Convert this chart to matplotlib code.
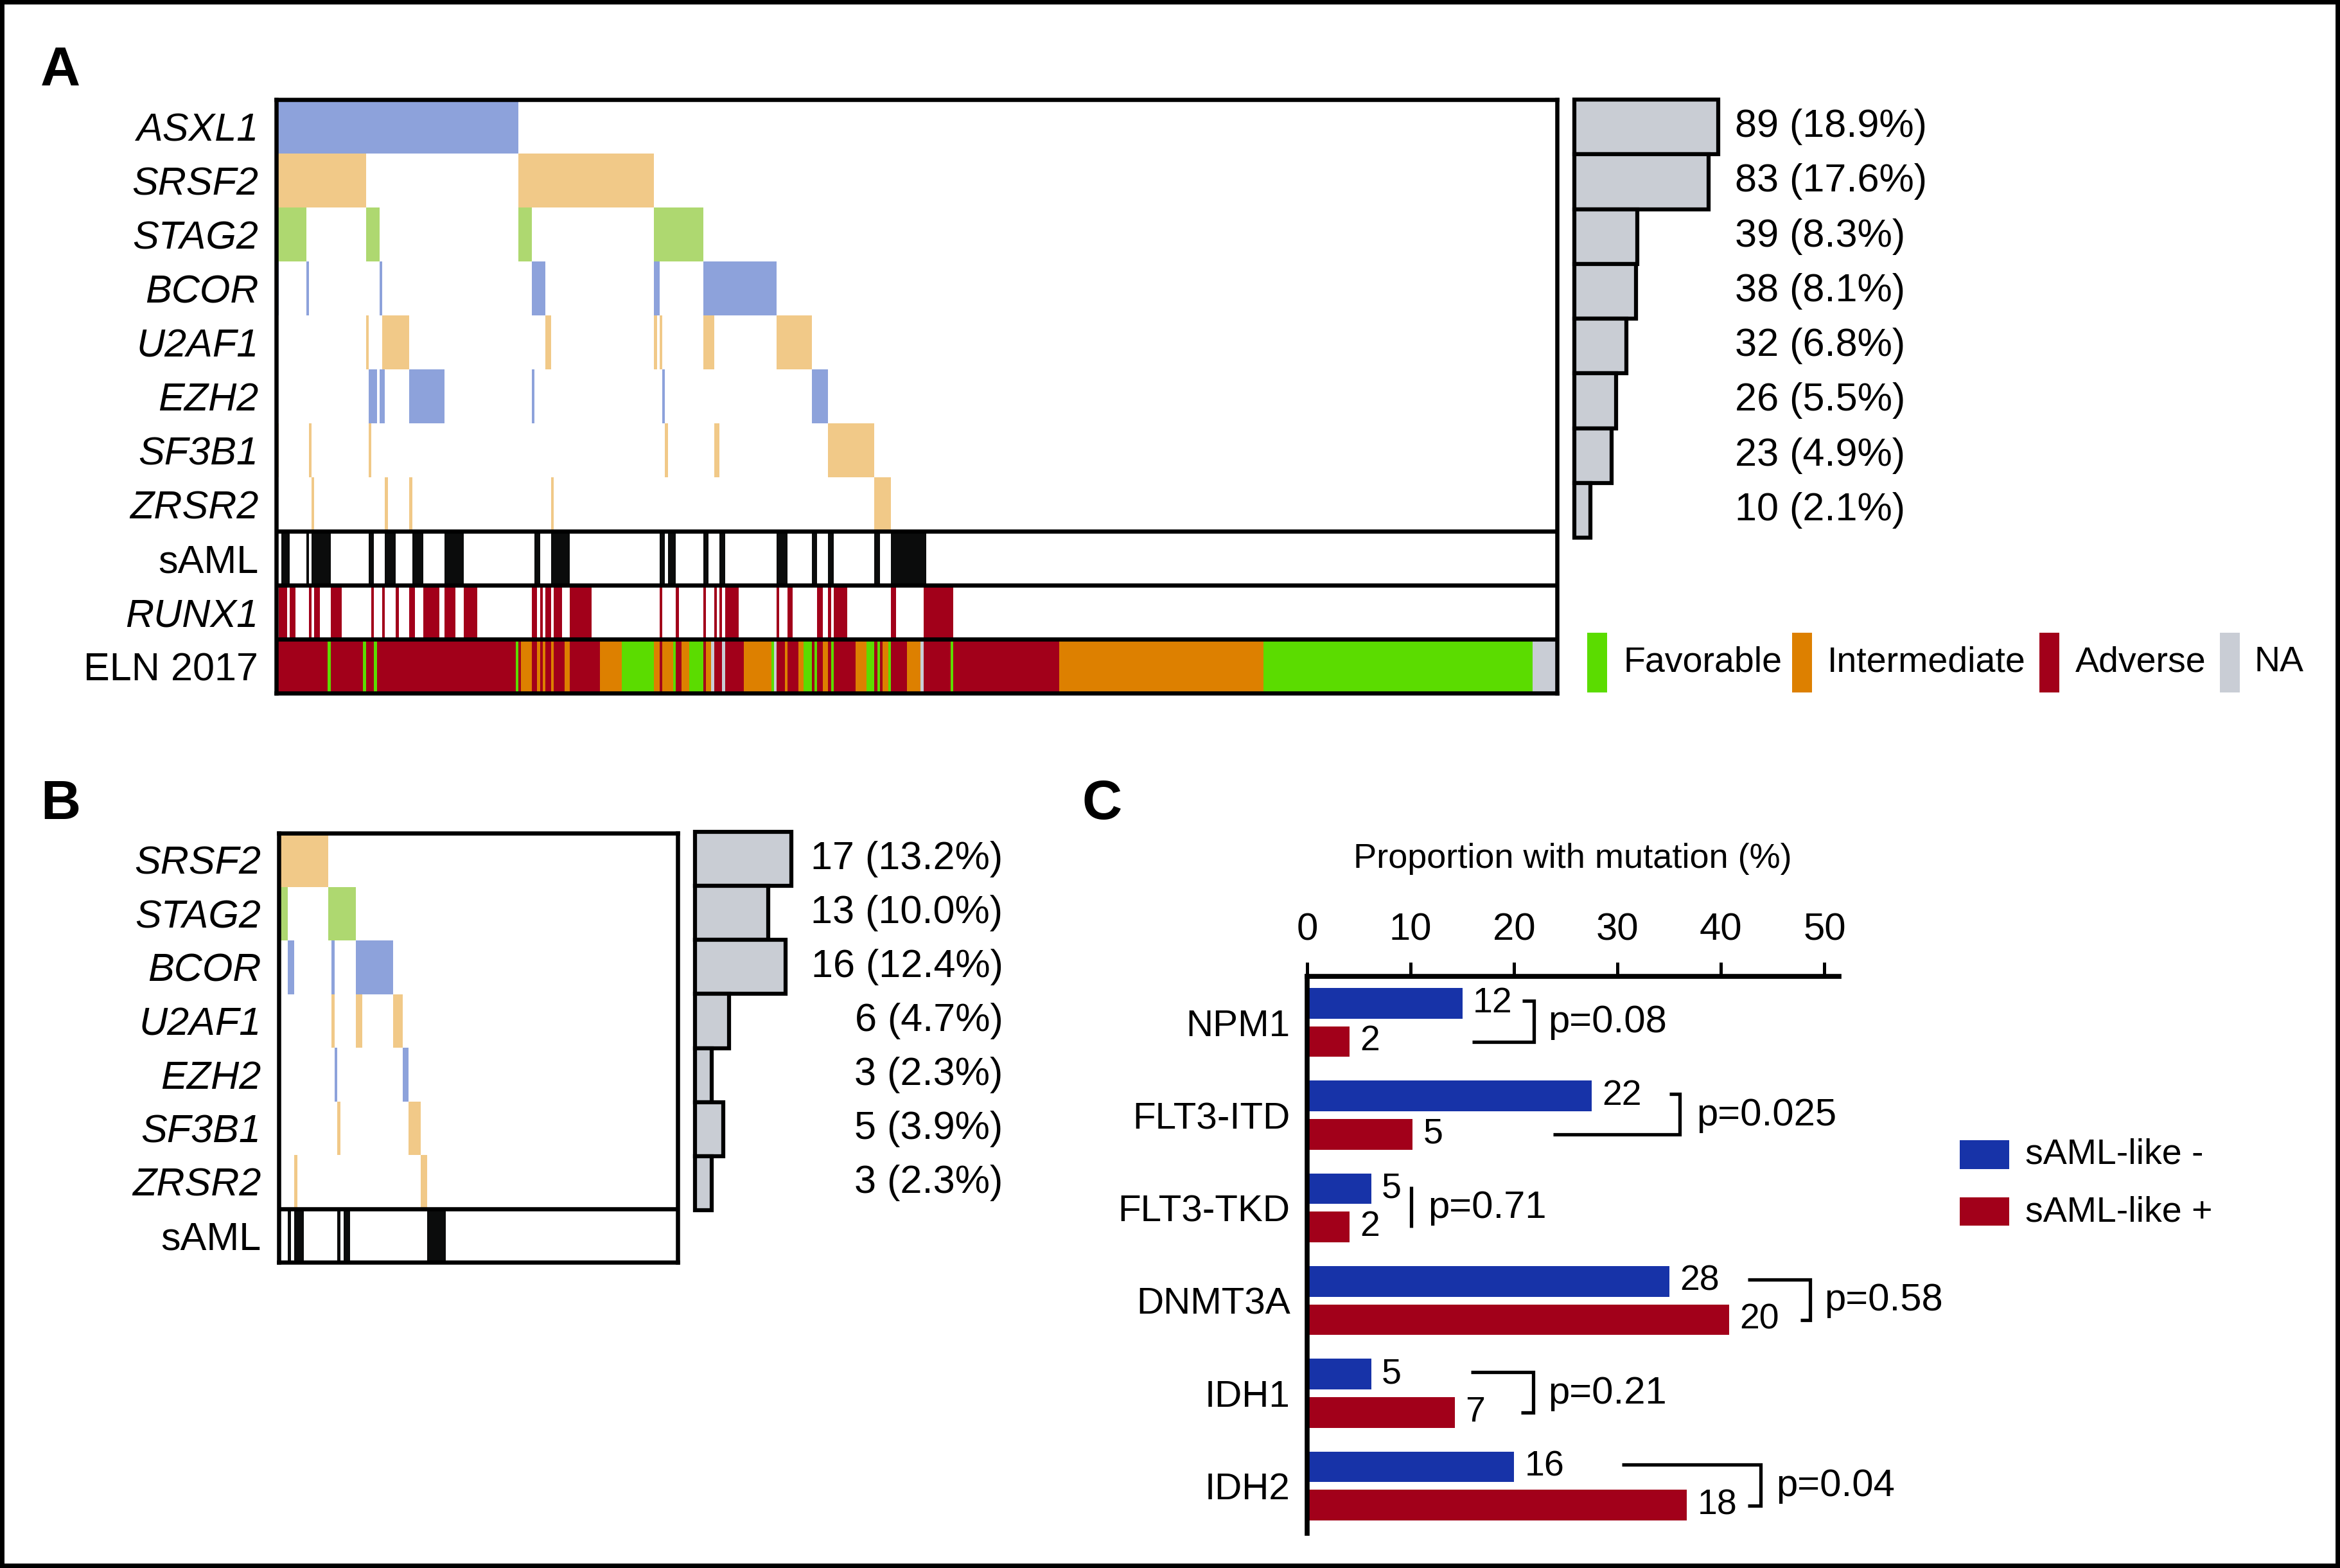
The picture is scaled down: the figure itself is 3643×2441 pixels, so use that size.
import numpy as np
import matplotlib
matplotlib.use("Agg")
import matplotlib.pyplot as plt
from matplotlib.patches import Rectangle

plt.rcParams['font.family'] = ['Liberation Sans', 'DejaVu Sans']

W, H = 3643, 2441

# ---------------- panel A : 471 patients ----------------
n_pat_a = 471
genes_a = ['ASXL1', 'SRSF2', 'STAG2', 'BCOR', 'U2AF1', 'EZH2', 'SF3B1', 'ZRSR2']
asxl1_a = [(0, 89)]
srsf2_a = [(0, 33), (89, 139)]
stag2_a = [(0, 11), (33, 38), (89, 94), (139, 157)]
bcor_a = [(0, 1), (11, 12), (38, 39), (94, 99), (139, 141), (157, 184)]
u2af1_a = [(33, 34), (39, 49), (99, 101), (139, 140), (141, 142), (157, 161), (184, 197)]
ezh2_a = [(34, 37), (38, 40), (49, 62), (94, 95), (142, 143), (197, 203)]
sf3b1_a = [(0, 1), (12, 13), (34, 35), (143, 144), (161, 163), (203, 220)]
zrsr2_a = [(13, 14), (40, 41), (49, 50), (101, 102), (220, 226)]
saml_a = [(2, 5), (11, 12), (13, 20), (34, 36), (40, 44), (50, 54), (62, 69), (95, 97),
          (101, 108), (141, 143), (144, 147), (157, 159), (163, 165), (184, 188),
          (197, 199), (203, 205), (220, 222), (226, 239)]
runx1_a = [(1, 4), (5, 7), (12, 13), (14, 16), (20, 24), (35, 36), (39, 40), (44, 45),
           (49, 51), (54, 60), (62, 66), (69, 74), (94, 96), (97, 98), (99, 101),
           (102, 105), (108, 116), (141, 142), (147, 148), (157, 158), (161, 162),
           (163, 164), (165, 170), (184, 185), (188, 190), (199, 201), (203, 204),
           (205, 210), (226, 228), (238, 249)]
eln_start = [0, 19, 20, 32, 33, 36, 37, 88, 89, 90, 94, 96, 97, 98, 99, 101, 102, 106, 108, 119,
             127, 139, 141, 142, 146, 147, 149, 152, 157, 158, 160, 161, 164, 165, 172, 182, 183,
             184, 187, 188, 192, 194, 197, 198, 199, 201, 203, 204, 205, 213, 217, 220, 221, 222,
             223, 225, 226, 232, 237, 238, 248, 249, 288, 363, 462]
eln_group = ['Adv', 'Fav', 'Adv', 'Fav', 'Adv', 'Fav', 'Adv', 'Fav', 'Adv', 'Int',
             'Adv', 'Int', 'Adv', 'Int', 'Adv', 'Int', 'Adv', 'Int', 'Adv', 'Int',
             'Fav', 'Int', 'Adv', 'Int', 'Fav', 'Adv', 'Int', 'Fav', 'Adv', 'Int',
             'NA', 'Adv', 'NA', 'Adv', 'Int', 'Fav', 'NA', 'Adv', 'Int', 'Adv',
             'Int', 'Fav', 'Adv', 'Fav', 'Adv', 'Int', 'Adv', 'Fav', 'Adv', 'Int',
             'Fav', 'Adv', 'Fav', 'Adv', 'Int', 'Fav', 'Adv', 'Int', 'NA', 'Adv',
             'Fav', 'Adv', 'Int', 'Fav', 'NA']
counts_a = [89, 83, 39, 38, 32, 26, 23, 10]
pct_a = [18.9, 17.6, 8.3, 8.1, 6.8, 5.5, 4.9, 2.1]

# ---------------- panel B : 129 patients ----------------
n_pat_b = 129
genes_b = ['SRSF2', 'STAG2', 'BCOR', 'U2AF1', 'EZH2', 'SF3B1', 'ZRSR2']
srsf2_b = [(0, 16)]
stag2_b = [(0, 3), (16, 25)]
bcor_b = [(3, 5), (17, 18), (25, 37)]
u2af1_b = [(17, 18), (25, 27), (37, 40)]
ezh2_b = [(18, 19), (40, 42)]
sf3b1_b = [(19, 20), (42, 46)]
zrsr2_b = [(5, 6), (46, 48)]
saml_b = [(3, 4), (5, 8), (19, 20), (21, 23), (48, 54)]
counts_b = [17, 13, 16, 6, 3, 5, 3]
pct_b = [13.2, 10.0, 12.4, 4.7, 2.3, 3.9, 2.3]

# ---------------- panel C ----------------
genes_c = ['NPM1', 'FLT3-ITD', 'FLT3-TKD', 'DNMT3A', 'IDH1', 'IDH2']
pct_neg = [15.0, 27.5, 6.2, 35.0, 6.2, 20.0]
pct_pos = [4.1, 10.2, 4.1, 40.8, 14.3, 36.7]
n_neg = [12, 22, 5, 28, 5, 16]
n_pos = [2, 5, 2, 20, 7, 18]
pvals = ['p=0.08', 'p=0.025', 'p=0.71', 'p=0.58', 'p=0.21', 'p=0.04']
# bracket geometry (x in %): top arm start, bottom arm start, vertical, p text
br_top = [20.8, 35.0, 10.06, 42.6, 15.8, 30.4]
br_bot = [15.95, 23.8, 10.06, 47.7, 20.7, 42.6]
br_x = [21.9, 36.0, 10.06, 48.6, 21.85, 43.8]
p_x = [23.3, 37.6, 11.7, 50.0, 23.3, 45.3]

# colours
c_epi = '#8da2db'
c_spl = '#f1c988'
c_coh = '#aed870'
c_blk = '#0b0c0c'
c_red = '#a2001a'
eln_cols = {'Fav': '#5bdc00', 'Int': '#dd8000', 'Adv': '#a2001a', 'NA': '#c9cdd5'}
gene_col = {'ASXL1': c_epi, 'BCOR': c_epi, 'EZH2': c_epi, 'STAG2': c_coh,
            'SRSF2': c_spl, 'U2AF1': c_spl, 'SF3B1': c_spl, 'ZRSR2': c_spl}
c_side = '#c9cdd4'
c_blue = '#1733a8'

LW = 4.7

fig = plt.figure(figsize=(W / 100, H / 100), dpi=100)


def px_axes(x0, y0, x1, y1):
    return fig.add_axes([x0 / W, 1 - y1 / H, (x1 - x0) / W, (y1 - y0) / H])


def segs(lst):
    return [(s, e - s) for s, e in lst]


def matrix(ax, rows, cols, n_pat, labels, italic, sep):
    for i, (r, c) in enumerate(zip(rows, cols)):
        ax.broken_barh(segs(r), (i, 1), facecolors=c, linewidth=0)
    ax.set_xlim(0, n_pat)
    ax.set_ylim(len(labels), 0)
    for y in sep:
        ax.axhline(y, color='k', lw=LW)
    for sp in ax.spines.values():
        sp.set_linewidth(LW)
    ax.set_xticks([])
    ax.set_yticks(np.arange(len(labels)) + 0.5)
    ax.set_yticklabels(labels, fontsize=44)
    for lab, it in zip(ax.get_yticklabels(), italic):
        lab.set_fontstyle('italic' if it else 'normal')
    ax.tick_params(axis='y', length=0, pad=20)


def side_bars(ax, pct, counts, xmax, tx, ha):
    n = len(pct)
    bars = ax.barh(np.arange(n) + 0.5, pct, height=1, color=c_side, edgecolor='k', lw=4.5)
    for b in bars:
        b.set_clip_on(False)
    for i, (c, p) in enumerate(zip(counts, pct)):
        ax.text(tx, i + 0.5, f"{c} ({p:.1f}%)", va='center', ha=ha, fontsize=44)
    ax.set_xlim(0, xmax)
    ax.set_ylim(n, 0)
    ax.axis('off')


# ---- A matrix
axA = px_axes(430, 155, 2424, 1079)
rows_a = [asxl1_a, srsf2_a, stag2_a, bcor_a, u2af1_a, ezh2_a, sf3b1_a, zrsr2_a, saml_a, runx1_a]
cols_a = [gene_col[g] for g in genes_a] + [c_blk, c_red]
eln_end = eln_start[1:] + [n_pat_a]
for grp, col in eln_cols.items():
    runs = [(s, e - s) for s, e, g in zip(eln_start, eln_end, eln_group) if g == grp]
    axA.broken_barh(runs, (10, 1), facecolors=col, linewidth=0)
matrix(axA, rows_a, cols_a, n_pat_a, genes_a + ['sAML', 'RUNX1', 'ELN 2017'],
       [True] * 8 + [False, True, False], [8, 9, 10])

axAs = px_axes(2451, 155, 2851, 837)
side_bars(axAs, pct_a, counts_a, 400 / 11.85, 21.1, 'left')

# ELN legend
leg_items = [('Favorable', 'Fav', 2471, 2528), ('Intermediate', 'Int', 2790, 2845),
             ('Adverse', 'Adv', 3175, 3231), ('NA', 'NA', 3456, 3510)]
for name, key, px0, tx0 in leg_items:
    fig.add_artist(Rectangle((px0 / W, 1 - 1078 / H), 31 / W, 93 / H,
                             transform=fig.transFigure, color=eln_cols[key], lw=0))
    fig.text(tx0 / W, 1 - 1031 / H, name, fontsize=40, va='center', ha='left')

# ---- B matrix
axB = px_axes(434, 1297, 1055, 1965)
rows_b = [srsf2_b, stag2_b, bcor_b, u2af1_b, ezh2_b, sf3b1_b, zrsr2_b, saml_b]
cols_b = [gene_col[g] for g in genes_b] + [c_blk]
matrix(axB, rows_b, cols_b, n_pat_b, genes_b + ['sAML'], [True] * 7 + [False], [7])

axBs = px_axes(1082, 1295, 1282, 1884)
side_bars(axBs, pct_b, counts_b, 200 / 11.36, 42.2, 'right')

# ---- C bars
axC = px_axes(2035, 1519.5, 2863, 2387)
y = np.arange(len(genes_c))
axC.barh(y - 0.206, pct_neg, height=0.33, color=c_blue)
axC.barh(y + 0.206, pct_pos, height=0.33, color=c_red)
for i in y:
    axC.text(pct_neg[i] + 1.0, i - 0.206, str(n_neg[i]), va='center', ha='left', fontsize=40)
    axC.text(pct_pos[i] + 1.0, i + 0.206, str(n_pos[i]), va='center', ha='left', fontsize=40)
    axC.plot([br_top[i], br_x[i], br_x[i], br_bot[i]], [i - 0.23, i - 0.23, i + 0.21, i + 0.21],
             color='k', lw=3.8, solid_joinstyle='miter', solid_capstyle='butt', clip_on=False)
    axC.text(p_x[i], i, pvals[i], va='center', ha='left', fontsize=43)
axC.set_xlim(0, 51.4)
axC.set_ylim(5.51, -0.5)
axC.xaxis.tick_top()
axC.set_xticks([0, 10, 20, 30, 40, 50])
axC.tick_params(axis='x', direction='out', length=16, width=3.6, labelsize=43, pad=16)
axC.set_yticks(y)
axC.set_yticklabels(genes_c, fontsize=42)
axC.tick_params(axis='y', length=0, pad=19)
axC.spines['right'].set_visible(False)
axC.spines['bottom'].set_visible(False)
axC.spines['top'].set_linewidth(5.5)
axC.spines['left'].set_linewidth(5.5)
axC.text(0.499, 1.21, 'Proportion with mutation (%)', transform=axC.transAxes,
         ha='center', va='center', fontsize=39)

for lab, col, y0, y1, ty in [('sAML-like -', c_blue, 1775, 1820, 1798),
                             ('sAML-like +', c_red, 1864, 1908, 1888)]:
    fig.add_artist(Rectangle((3051 / W, 1 - y1 / H), 77 / W, (y1 - y0) / H,
                             transform=fig.transFigure, color=col, lw=0))
    fig.text(3153 / W, 1 - ty / H, lab, fontsize=40, va='center', ha='left')

# panel letters
for letter, lx, ly in [('A', 63, 133), ('B', 63, 1275), ('C', 1684, 1275)]:
    fig.text(lx / W, 1 - ly / H, letter, fontsize=62, fontweight='bold', va='baseline', ha='left')

# outer frame
fig.add_artist(Rectangle((0, 0), 1, 1, transform=fig.transFigure, fill=False, ec='k', lw=10))

fig.savefig('out.png', dpi=100)
